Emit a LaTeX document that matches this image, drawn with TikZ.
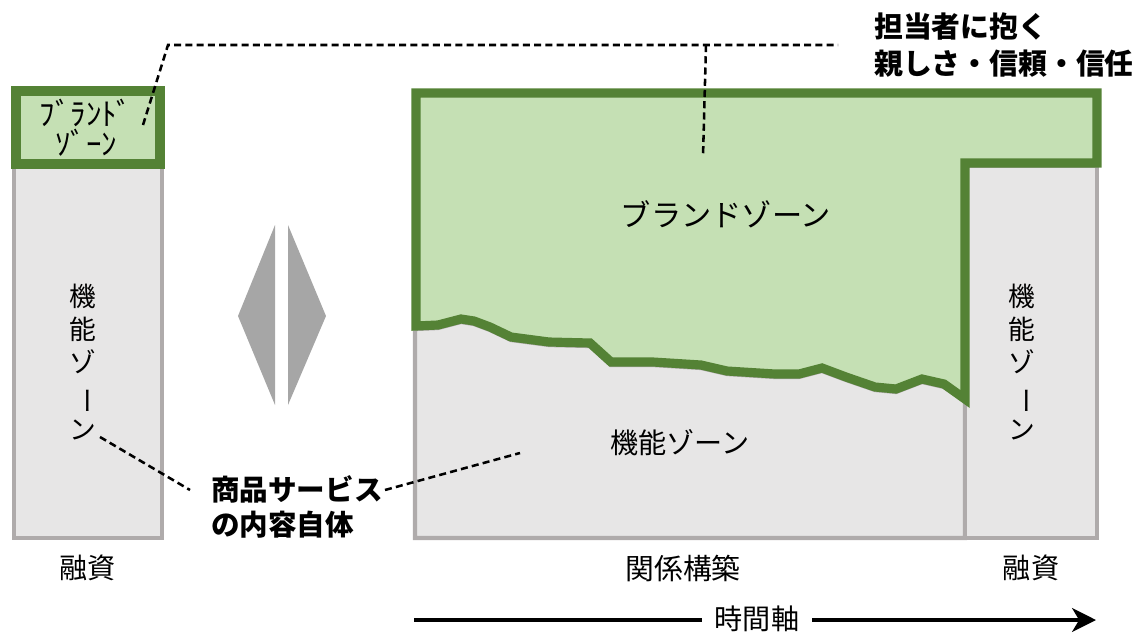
\documentclass[tikz,border=0pt]{standalone}
\usepackage{fontspec}
\setmainfont{Noto Sans CJK JP}
\usepackage{graphicx}
\usetikzlibrary{arrows.meta}
\definecolor{gfill}{HTML}{C5E0B4}
\definecolor{gline}{HTML}{548235}
\definecolor{boxfill}{HTML}{E7E6E6}
\definecolor{boxline}{HTML}{AFABAB}
\definecolor{dia}{HTML}{A6A6A6}
\tikzset{
  graybox/.style={fill=boxfill, draw=boxline, line width=3pt},
  greenbox/.style={fill=gfill, draw=gline, line width=6.5pt, line join=miter},
  lbl/.style={font=\fontsize{20}{24}\selectfont, inner sep=2pt},
  vtxt/.style={font=\fontsize{19}{23.7}\selectfont, align=center, inner sep=0pt},
  boldlbl/.style={font=\fontsize{20.5}{27}\selectfont\bfseries, align=left, anchor=west, inner sep=0pt},
  smalllbl/.style={font=\fontsize{22}{21.5}\selectfont, align=center, inner sep=0pt},
  dashline/.style={draw=black, line width=1.8pt, dash pattern=on 5pt off 3pt},
  halfdia/.style={fill=dia, draw=none},
  timeline/.style={draw=black, line width=2.6pt}
}
\newcommand{\vbar}{\rotatebox[origin=c]{-90}{ー}}
\begin{document}
\begin{tikzpicture}[x=0.025cm, y=-0.025cm]
\useasboundingbox (0,0) rectangle (1134,633);

% left column
\draw[graybox] (14,165) rectangle (162,538);
\draw[greenbox] (16,91) rectangle (160,164);

% diamond halves
\fill[halfdia] (238,316) -- (275,225) -- (275,405) -- cycle;
\fill[halfdia] (288,225) -- (326,316) -- (288,405) -- cycle;

% right main: gray area (with wave shifted down)
\draw[graybox, shift={(0,3)}] (415,326) -- (438,325) -- (461,319) -- (474,321) -- (490,327) -- (511,337) -- (549,342) -- (590,343) -- (611,362) -- (653,362) -- (701,365) -- (727,371) -- (775,374) -- (799,374) -- (822,368) -- (846,377) -- (875,387) -- (896,389) -- (922,379) -- (944,384) -- (965,398) -- (965,535) -- (415,535) -- cycle;
\draw[graybox] (965,166) rectangle (1097,538);
\draw[graybox] (415,538) -- (965,538);

% green brand zone
\draw[greenbox] (416,93) -- (1097,93) -- (1097,163) -- (965,163) -- (965,399) -- (944,384) -- (922,379) -- (896,389) -- (875,387) -- (846,377) -- (822,368) -- (799,374) -- (775,374) -- (727,371) -- (701,365) -- (653,362) -- (611,362) -- (590,343) -- (549,342) -- (511,337) -- (490,327) -- (474,321) -- (461,319) -- (438,325) -- (416,326) -- cycle;

% texts
\node[smalllbl] (brandL) at (86,128) {ﾌﾞﾗﾝﾄﾞ\\ｿﾞｰﾝ};
\node[vtxt] (kinoL) at (83,362) {機\\能\\ゾ\\\vbar\\ン};
\node[vtxt] (kinoRR) at (1022,362) {機\\能\\ゾ\\\vbar\\ン};
\node[lbl, font=\fontsize{21.5}{24}\selectfont] (brandR) at (726,214) {ブランドゾーン};
\node[lbl] (kinoR) at (680,443) {機能ゾーン};
\node[lbl] (yushiL) at (88,568) {融資};
\node[lbl, font=\fontsize{20.5}{24}\selectfont] (kankei) at (683,568) {関係構築};
\node[lbl] (yushiR) at (1031,568) {融資};
\node[lbl, inner sep=9pt] (jikan) at (757,619) {時間軸};
\node[boldlbl] (tanto) at (874,45) {担当者に抱く\\親しさ・信頼・信任};
\node[boldlbl, font=\fontsize{20.3}{25}\selectfont\bfseries] (shohin) at (211,507) {商品サービス\\の内容自体};

% dashed connectors
\coordinate (d1) at (143,125);
\coordinate (d2) at (168,45);
\coordinate (d3) at (838,45);
\coordinate (d4) at (706,45);
\coordinate (d5) at (703,157);
\draw[dashline] (d1) -- (d2) -- (d3);
\draw[dashline] (d4) -- (d5);
\coordinate (k1) at (100,437);
\coordinate (k2) at (190,490);
\coordinate (k3) at (385,490);
\coordinate (k4) at (520,453);
\draw[dashline] (k1) -- (k2);
\draw[dashline] (k3) -- (k4);

% time axis
\coordinate (t0) at (414,620);
\coordinate (t1) at (1096,620);
\draw[timeline] (t0) -- (jikan.west |- t0);
\draw[timeline, -{Stealth[length=17pt, width=17pt, inset=5pt]}] (jikan.east |- t0) -- (t1);
\end{tikzpicture}
\end{document}
